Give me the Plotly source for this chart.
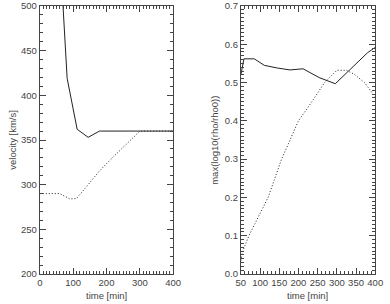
import plotly.graph_objects as go

# Left panel: velocity vs time
vel_t_solid = [50, 82, 112, 145, 179, 212, 250, 300, 350, 400]
vel_solid = [628, 419, 362, 353, 360, 360, 360, 360, 360, 360]
vel_t_dot = [0, 33, 60, 90, 110, 145, 178, 212, 245, 278, 300, 340, 400]
vel_dot = [290, 290, 290, 284, 284.5, 300, 315, 328, 340, 353, 360, 360, 360]

# Right panel: max(log10(rho/rho0)) vs time
rho_t_solid = [50, 58, 85, 111, 145, 178, 212, 254, 296, 338, 380, 400]
rho_solid = [0.52, 0.562, 0.562, 0.545, 0.538, 0.533, 0.536, 0.513, 0.497, 0.538, 0.578, 0.592]
rho_t_dot = [50, 55, 71, 95, 121, 156, 178, 200, 235, 268, 300, 325, 345, 372, 400]
rho_dot = [0.035, 0.06, 0.1, 0.15, 0.2, 0.3, 0.35, 0.4, 0.45, 0.5, 0.532, 0.532, 0.522, 0.5, 0.463]

x_ticks_left = [0, 100, 200, 300, 400]
x_ticks_right = [50, 100, 150, 200, 250, 300, 350, 400]
y_ticks_left = [200, 250, 300, 350, 400, 450, 500]
y_ticks_right = [0.0, 0.1, 0.2, 0.3, 0.4, 0.5, 0.6, 0.7]

W, H = 390, 304
MT, MB = 5, 30
PH = H - MT - MB

LC = "#222222"
AC = "#444444"
FONT = dict(family="Liberation Sans, Arial, sans-serif", size=9.5, color="#444444")


def px_x(px):
    return px / W


def px_y(py):
    return (H - MB - py) / PH


fig = go.Figure()
fig.add_trace(go.Scatter(x=vel_t_solid, y=vel_solid, mode="lines",
                         line=dict(color=LC, width=1), xaxis="x", yaxis="y"))
fig.add_trace(go.Scatter(x=vel_t_dot, y=vel_dot, mode="lines",
                         line=dict(color=LC, width=1, dash="1px,2px"), xaxis="x", yaxis="y"))
fig.add_trace(go.Scatter(x=rho_t_solid, y=rho_solid, mode="lines",
                         line=dict(color=LC, width=1), xaxis="x2", yaxis="y2"))
fig.add_trace(go.Scatter(x=rho_t_dot, y=rho_dot, mode="lines",
                         line=dict(color=LC, width=1, dash="1px,2px"), xaxis="x2", yaxis="y2"))

common = dict(showgrid=False, zeroline=False, showline=True, linecolor=AC, linewidth=1,
              mirror="ticks", ticks="inside", ticklen=6, tickcolor=AC, tickwidth=1,
              tickfont=FONT, tickangle=0)

fig.update_layout(
    width=W, height=H, autosize=False,
    margin=dict(l=0, r=0, t=MT, b=MB),
    paper_bgcolor="white", plot_bgcolor="white",
    showlegend=False,
    xaxis=dict(domain=[36/W, 174/W], range=[0, 400], tickvals=x_ticks_left,
               minor=dict(dtick=10, tick0=0, ticks="inside", ticklen=3, tickcolor=AC),
               anchor="y", **common),
    yaxis=dict(domain=[0, 1], range=[200, 500], tickvals=y_ticks_left,
               minor=dict(dtick=10, tick0=0, ticks="inside", ticklen=3, tickcolor=AC),
               anchor="x", **common),
    xaxis2=dict(domain=[244/W, 383/W], range=[50, 400], tickvals=x_ticks_right,
                minor=dict(dtick=10, tick0=0, ticks="inside", ticklen=3, tickcolor=AC),
                anchor="y2", **common),
    yaxis2=dict(domain=[0, 1], range=[0, 0.7], tickvals=y_ticks_right, tickformat=".1f",
                minor=dict(dtick=0.01, tick0=0, ticks="inside", ticklen=3, tickcolor=AC),
                anchor="x2", **common),
    annotations=[
        dict(text="velocity [km/s]", x=px_x(7), y=px_y(139.5), xref="paper", yref="paper",
             xanchor="center", yanchor="middle", textangle=-90, showarrow=False, font=FONT),
        dict(text="max(log10(rho/rho0))", x=px_x(216), y=px_y(139.5), xref="paper", yref="paper",
             xanchor="center", yanchor="middle", textangle=-90, showarrow=False, font=FONT),
        dict(text="time [min]", x=px_x(105), y=px_y(296), xref="paper", yref="paper",
             xanchor="center", yanchor="middle", showarrow=False, font=FONT),
        dict(text="time [min]", x=px_x(313), y=px_y(296), xref="paper", yref="paper",
             xanchor="center", yanchor="middle", showarrow=False, font=FONT),
    ],
)

fig.write_html("out.html")
